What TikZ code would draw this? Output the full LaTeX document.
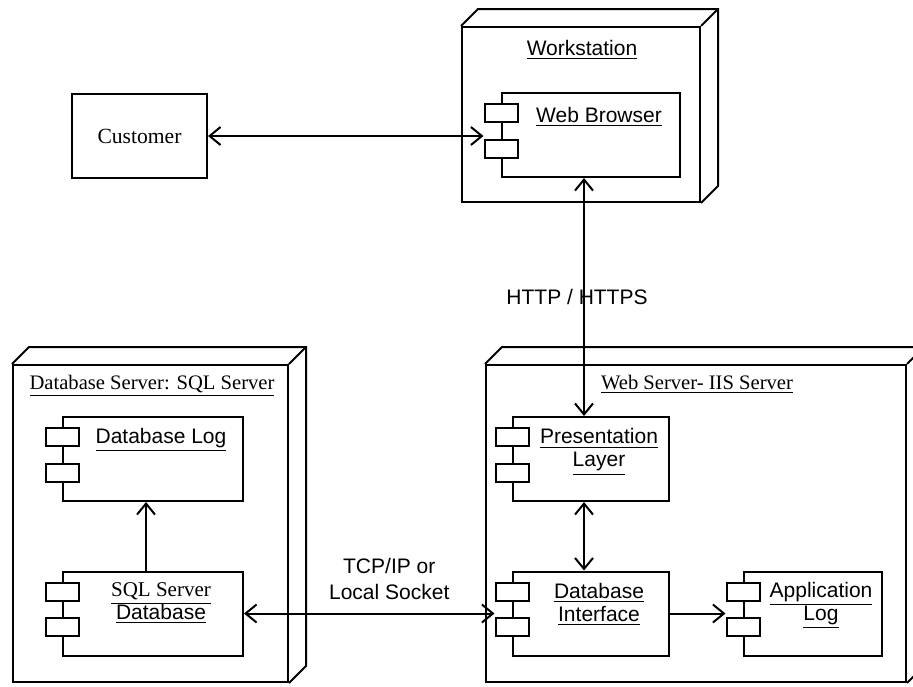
\documentclass[tikz,border=0pt]{standalone}
\usepackage{fontspec}
\setmainfont{Liberation Serif}
\setsansfont{Liberation Sans}
\usetikzlibrary{arrows.meta}
\tikzstyle{deploy}=[x=0.5pt, y=-0.5pt, line width=1pt, >={Straight Barb[length=5.5pt,width=9pt]}]
\tikzstyle{box}=[rectangle, draw, fill=white, inner sep=0pt]
\tikzstyle{comp}=[box, minimum height=42pt]
\tikzstyle{tab}=[box, minimum width=16.5pt, minimum height=9pt]
\tikzstyle{cname}=[font=\sffamily\fontsize{10.5}{11.5}\selectfont, align=center, xshift=4pt]
\tikzstyle{ntitle}=[font=\fontsize{10.3}{12}\selectfont, inner sep=1pt]
\tikzstyle{stitle}=[font=\sffamily\fontsize{10.5}{12}\selectfont, inner sep=1pt]
\tikzstyle{edge}=[->]
\tikzstyle{dedge}=[<->]
\tikzstyle{edgeLabel}=[font=\sffamily\fontsize{10.5}{13}\selectfont, align=center]
\newcommand{\dep}{17}
\newcommand{\comptabs}[1]{%
	\node[tab] (#1-t1) at (#1.north west) [yshift=-10.5pt] {};
	\node[tab] (#1-t2) at (#1.north west) [yshift=-28.25pt] {};}
\newcommand{\nodedepth}[1]{%
	\draw (#1.north west) -- ++(\dep,-\dep) -| ([shift={(\dep,-\dep)}]#1.south east) -- (#1.south east);
	\draw (#1.north east) -- ++(\dep,-\dep);}

\begin{document}
\begin{tikzpicture}[deploy]
	\useasboundingbox (0,0) rectangle (913,686);
	%% nodes
	\node[box, minimum width=119pt, minimum height=87.5pt] (ws) at (581,114.5) {};
	\nodedepth{ws}
	\node[box, minimum width=137.5pt, minimum height=158.5pt] (dbs) at (150.5,523.5) {};
	\nodedepth{dbs}
	\node[box, minimum width=210pt, minimum height=158.5pt] (wsrv) at (696,523.5) {};
	\nodedepth{wsrv}
	\node[stitle] (ws-name) at (582,50) {\underline{Workstation}};
	\node[ntitle] (dbs-name) at (152,386) {\underline{Database Server: SQL Server}};
	\node[ntitle] (wsrv-name) at (697,384) {\underline{Web Server- IIS Server}};
	%%
	\node[box, minimum width=67.5pt, minimum height=42pt, font=\fontsize{10.8}{12}\selectfont] (cust) at (139.5,136) {Customer};
	%% components
	\node[comp, minimum width=89pt, label={[cname, yshift=9pt]center:\underline{Web Browser}}] (wb) at (591,135) {};
	\comptabs{wb}
	\node[comp, minimum width=90pt, label={[cname, yshift=9.5pt]center:\underline{Database Log}}] (dl) at (153,459) {};
	\comptabs{dl}
	\node[comp, minimum width=90pt, label={[cname, yshift=5pt]center:{\rmfamily\underline{SQL Server}}\\\underline{Database}}] (sqldb) at (153,613.5) {};
	\comptabs{sqldb}
	\node[comp, minimum width=78pt, label={[cname, yshift=3.5pt]center:\underline{Presentation}\\\underline{Layer}}] (pl) at (591,459) {};
	\comptabs{pl}
	\node[comp, minimum width=78pt, label={[cname, yshift=4.5pt]center:\underline{Database}\\\underline{Interface}}] (dbi) at (591,613.5) {};
	\comptabs{dbi}
	\node[comp, minimum width=69pt, label={[cname, yshift=4pt]center:\underline{Application}\\\underline{Log}}] (al) at (813,613.5) {};
	\comptabs{al}
	%% connectors
	\coordinate (httpx) at (584,0);
	\coordinate (logx) at (146,0);
	\draw[dedge] (cust.east) -- (cust.east -| wb-t1.west);
	\draw[dedge] (wb.south -| httpx) -- (pl.north -| httpx) node[edgeLabel, midway, xshift=-3.5pt] {HTTP / HTTPS};
	\draw[dedge] (pl.south -| httpx) -- (dbi.north -| httpx);
	\draw[edge] (dbi.east) -- (dbi.east -| al-t1.west);
	\draw[edge] (sqldb.north -| logx) -- (dl.south -| logx);
	\draw[dedge] (sqldb.east) -- (sqldb.east -| dbi-t1.west) node[edgeLabel, midway, xshift=10pt, yshift=17.5pt] {TCP/IP or\\Local Socket};
\end{tikzpicture}
\end{document}
